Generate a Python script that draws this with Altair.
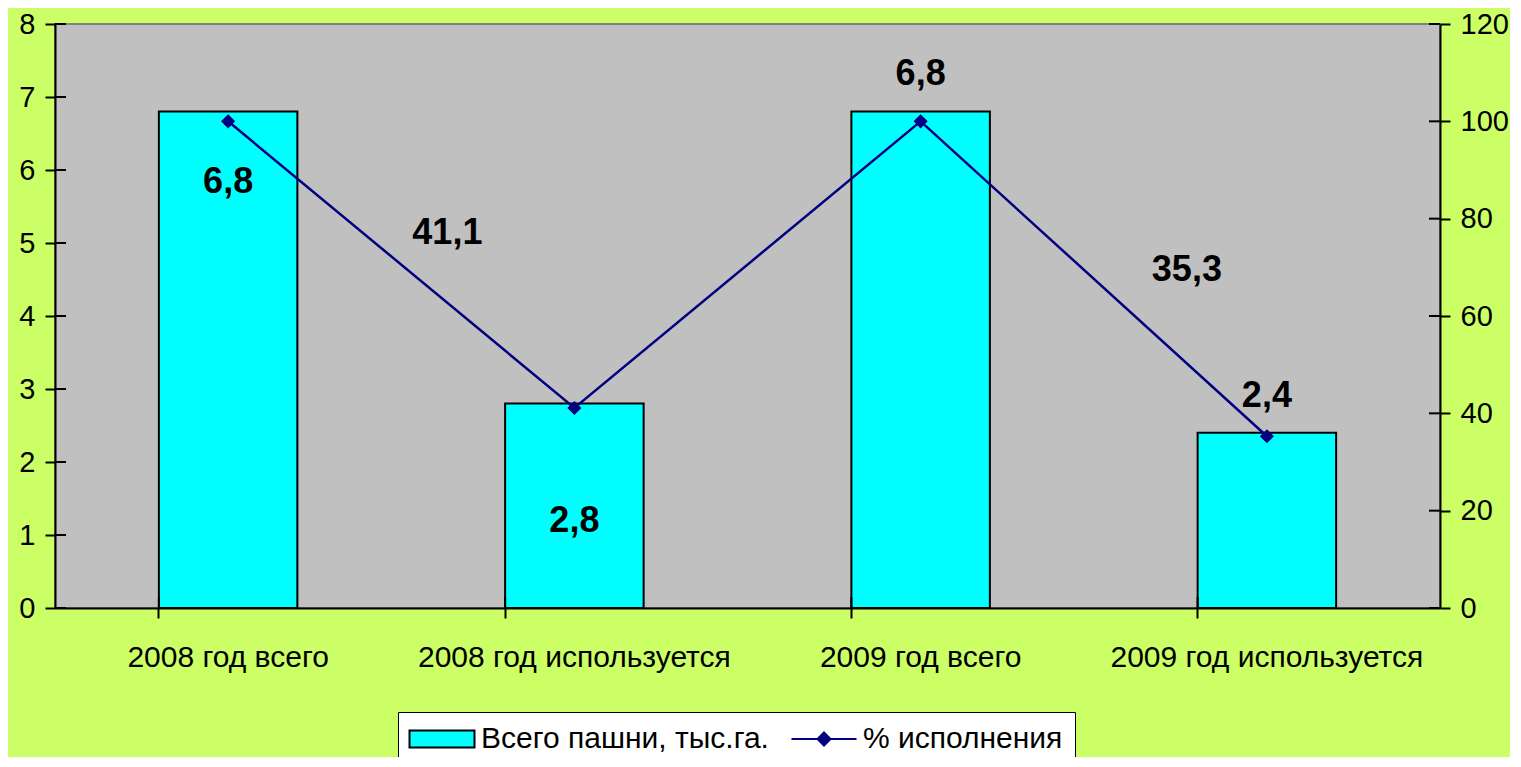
import altair as alt
import pandas as pd

categories = ["2008 год всего", "2008 год используется", "2009 год всего", "2009 год используется"]
area = [6.8, 2.8, 6.8, 2.4]
area_labels = ["6,8", "2,8", "6,8", "2,4"]
percent = [100, 41.1, 100, 35.3]
percent_labels = ["", "41,1", "", "35,3"]
left_ticks = [0, 1, 2, 3, 4, 5, 6, 7, 8]
right_ticks = [0, 20, 40, 60, 80, 100, 120]
series = ["Всего пашни, тыс.га.", "% исполнения"]

df = pd.DataFrame({"cat": categories, "area": area, "area_label": area_labels,
                   "pct": percent, "pct_label": percent_labels})
df_lt = pd.DataFrame({"v": left_ticks})
df_rt = pd.DataFrame({"v": right_ticks})
df_leg = pd.DataFrame({"series": series})

W, H = 1385, 584
FONT = "Liberation Sans"
BG = "#CCFF66"

x_axis = alt.Axis(title=None, bandPosition=0, tickExtra=False, domainColor="black", domainWidth=2,
                  tickColor="black", tickWidth=2, tickSize=10, labelFont=FONT, labelFontSize=30,
                  labelColor="black", labelPadding=24, labelAngle=0, labelLimit=0, grid=False)
x_scale = alt.Scale(domain=categories, paddingInner=0.6, paddingOuter=0.3)


def X(**kw):
    return alt.X("cat:N", scale=x_scale, axis=x_axis, sort=categories, **kw)


yl_axis = alt.Axis(title=None, values=left_ticks, orient="left", domainColor="black", domainWidth=2,
                   tickColor="black", tickWidth=2, tickSize=10, labelFont=FONT, labelFontSize=29,
                   labelColor="black", labelPadding=10, grid=False)
yl_scale = alt.Scale(domain=[0, 8], nice=False, zero=True)
yr_axis = alt.Axis(title=None, values=right_ticks, orient="right", domainColor="black", domainWidth=2,
                   tickColor="black", tickWidth=2, tickSize=10, labelFont=FONT, labelFontSize=29,
                   labelColor="black", labelPadding=10, grid=False)
yr_scale = alt.Scale(domain=[0, 120], nice=False, zero=True)

bars = alt.Chart(df).mark_bar(color="#00FFFF", stroke="black", strokeWidth=2).encode(
    x=X(), y=alt.Y("area:Q", scale=yl_scale, axis=yl_axis))

bar_dy = [70, 117, -38, -37]
bar_texts = []
for i, c in enumerate(categories):
    bar_texts.append(
        alt.Chart(df).transform_filter(alt.datum.cat == c).mark_text(
            font=FONT, fontSize=36, fontWeight="bold", color="black", dy=bar_dy[i], baseline="middle"
        ).encode(x=X(), y=alt.Y("area:Q", scale=yl_scale, axis=yl_axis), text="area_label:N"))

left_inner = alt.Chart(df_lt).mark_rule(color="black", strokeWidth=2).encode(
    y=alt.Y("v:Q", scale=yl_scale, axis=yl_axis), x=alt.value(0), x2=alt.value(11))
bottom_inner = alt.Chart(df).mark_rule(color="black", strokeWidth=2).encode(
    x=X(bandPosition=0), y=alt.value(H - 11), y2=alt.value(H))

left_group = alt.layer(bars, *bar_texts, left_inner, bottom_inner)

line = alt.Chart(df).mark_line(color="#000080", strokeWidth=2.5).encode(
    x=X(), y=alt.Y("pct:Q", scale=yr_scale, axis=yr_axis))
pts = alt.Chart(df).mark_point(shape="diamond", filled=True, color="#000080", size=200, opacity=1).encode(
    x=X(), y=alt.Y("pct:Q", scale=yr_scale, axis=yr_axis))

pct_off = {1: (-127, -175), 3: (-80, -166)}
pct_texts = []
for i, (dx, dy) in pct_off.items():
    pct_texts.append(
        alt.Chart(df).transform_filter(alt.datum.cat == categories[i]).mark_text(
            font=FONT, fontSize=36, fontWeight="bold", color="black", dx=dx, dy=dy, baseline="middle"
        ).encode(x=X(), y=alt.Y("pct:Q", scale=yr_scale, axis=yr_axis), text="pct_label:N"))

right_inner = alt.Chart(df_rt).mark_rule(color="black", strokeWidth=2).encode(
    y=alt.Y("v:Q", scale=yr_scale, axis=yr_axis), x=alt.value(W - 11), x2=alt.value(W))

right_group = alt.layer(line, pts, *pct_texts, right_inner)

leg = alt.Legend(title=None, orient="none", legendX=343, legendY=688, direction="horizontal",
                 fillColor="white", strokeColor="black", padding=12, labelFont=FONT, labelFontSize=30,
                 labelColor="black", labelLimit=0, symbolSize=400, symbolStrokeWidth=2,
                 symbolOffset=17, labelOffset=24, columnPadding=18, symbolOpacity=1)
shape_paths = ["M-3.25,-0.85H3.25V0.85H-3.25Z",
               "M-3.25,0H3.25M0,-0.65L0.65,0L0,0.65L-0.65,0Z"]
legend_layer = alt.Chart(df_leg).mark_point(filled=True, opacity=0).encode(
    fill=alt.Fill("series:N", scale=alt.Scale(domain=series, range=["#00FFFF", "#000080"]), legend=leg),
    stroke=alt.Stroke("series:N", scale=alt.Scale(domain=series, range=["black", "#000080"]), legend=leg),
    shape=alt.Shape("series:N", scale=alt.Scale(domain=series, range=shape_paths), legend=leg),
)

chart = alt.layer(left_group, right_group, legend_layer).resolve_scale(y="independent").properties(
    width=W, height=H, background=BG,
    view=alt.ViewBackground(fill="#C0C0C0", stroke="#808080", strokeWidth=2),
    padding={"left": 47, "top": 16, "right": 70, "bottom": 149},
    autosize=alt.AutoSizeParams(type="none"),
)

chart.save("out.html", embed_options={"renderer": "svg", "actions": False})
